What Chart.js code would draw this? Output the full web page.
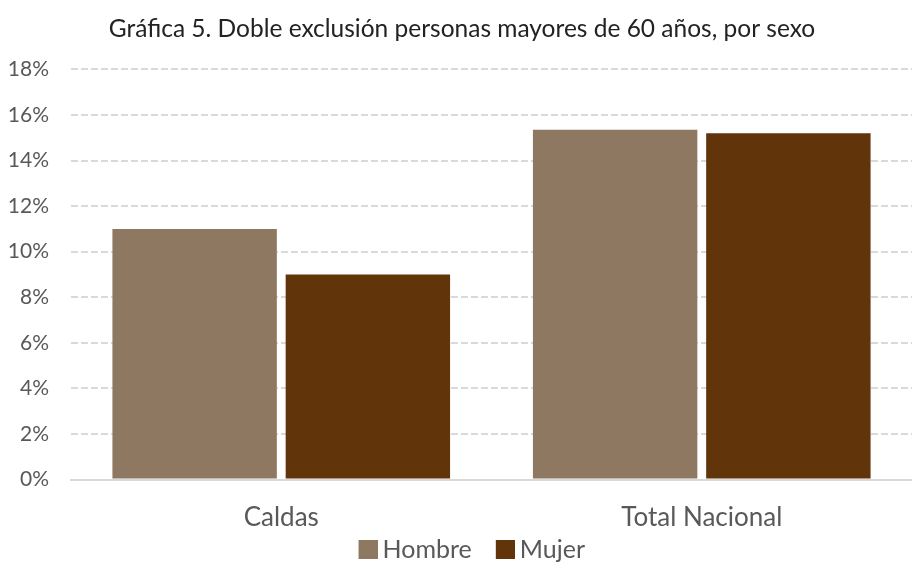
<!DOCTYPE html>
<html>
<head>
<meta charset="utf-8">
<script src="https://cdn.jsdelivr.net/npm/chart.js@4/dist/chart.umd.min.js"></script>
<style>
  html, body { margin: 0; padding: 0; background: #fff; overflow: hidden; }
  #wrap { width: 912px; height: 588px; }
</style>
</head>
<body>
<div id="wrap"><canvas id="mycanvas" width="912" height="588"></canvas></div>
<script>
// data
var categories = ['Caldas', 'Total Nacional'];
var hombre = [11.0, 15.35];
var mujer = [9.0, 15.2];
var yTicks = [0, 2, 4, 6, 8, 10, 12, 14, 16, 18];

var colorHombre = '#8f7862';
var colorMujer = '#623409';

// legend swatch: square sits close to its text, with room left of it
function swatch(color) {
  var c = document.createElement('canvas');
  c.width = 46;
  c.height = 19;
  var g = c.getContext('2d');
  g.fillStyle = color;
  g.fillRect(27, 0, 19, 19);
  return c;
}
var swatches = [swatch(colorHombre), swatch(colorMujer)];

var chartdata = {
  labels: categories,
  datasets: [
    {
      label: 'Hombre',
      data: hombre,
      backgroundColor: colorHombre,
      categoryPercentage: 0.824,
      barPercentage: 0.949
    },
    {
      label: 'Mujer',
      data: mujer,
      backgroundColor: colorMujer,
      categoryPercentage: 0.824,
      barPercentage: 0.949
    }
  ]
};

var ctx = document.getElementById('mycanvas');
var mycanvas = new Chart(ctx, {
  type: 'bar',
  data: chartdata,
  options: {
    responsive: false,
    animation: false,
    // the original picture is cut off on the right, so the plot runs past the edge
    layout: { padding: { left: 0, right: -12, top: 4, bottom: 16 } },
    plugins: {
      title: {
        display: true,
        text: 'Gráfica 5. Doble exclusión personas mayores de 60 años, por sexo',
        color: '#222222',
        font: { family: 'Lato', size: 24.5, weight: 'normal' },
        padding: { top: 10, bottom: 26 }
      },
      legend: {
        position: 'bottom',
        labels: {
          color: '#595959',
          font: { family: 'Lato', size: 25 },
          usePointStyle: true,
          pointStyleWidth: 31,
          padding: 4.5,
          generateLabels: function (chart) {
            var items = Chart.defaults.plugins.legend.labels.generateLabels(chart);
            items.forEach(function (it, i) { it.pointStyle = swatches[i]; });
            return items;
          }
        }
      },
      tooltip: { enabled: false }
    },
    scales: {
      x: {
        grid: { display: false, drawTicks: false },
        border: { color: '#d9d9d9', width: 2 },
        afterFit: function (axis) {
          axis.height = 53;
        },
        ticks: {
          color: '#595959',
          font: { family: 'Lato', size: 26 },
          padding: 23
        }
      },
      y: {
        min: 0,
        max: 18,
        afterBuildTicks: function (axis) {
          axis.ticks = yTicks.map(function (v) { return { value: v }; });
        },
        afterFit: function (axis) {
          axis.width = 71;
        },
        grid: {
          color: '#d9d9d9',
          lineWidth: 2,
          drawTicks: false
        },
        border: { display: false, dash: [7, 3] },
        ticks: {
          color: '#595959',
          font: { family: 'Lato', size: 21 },
          padding: 22,
          callback: function (v) { return v + '%'; }
        }
      }
    }
  }
});
</script>
</body>
</html>
